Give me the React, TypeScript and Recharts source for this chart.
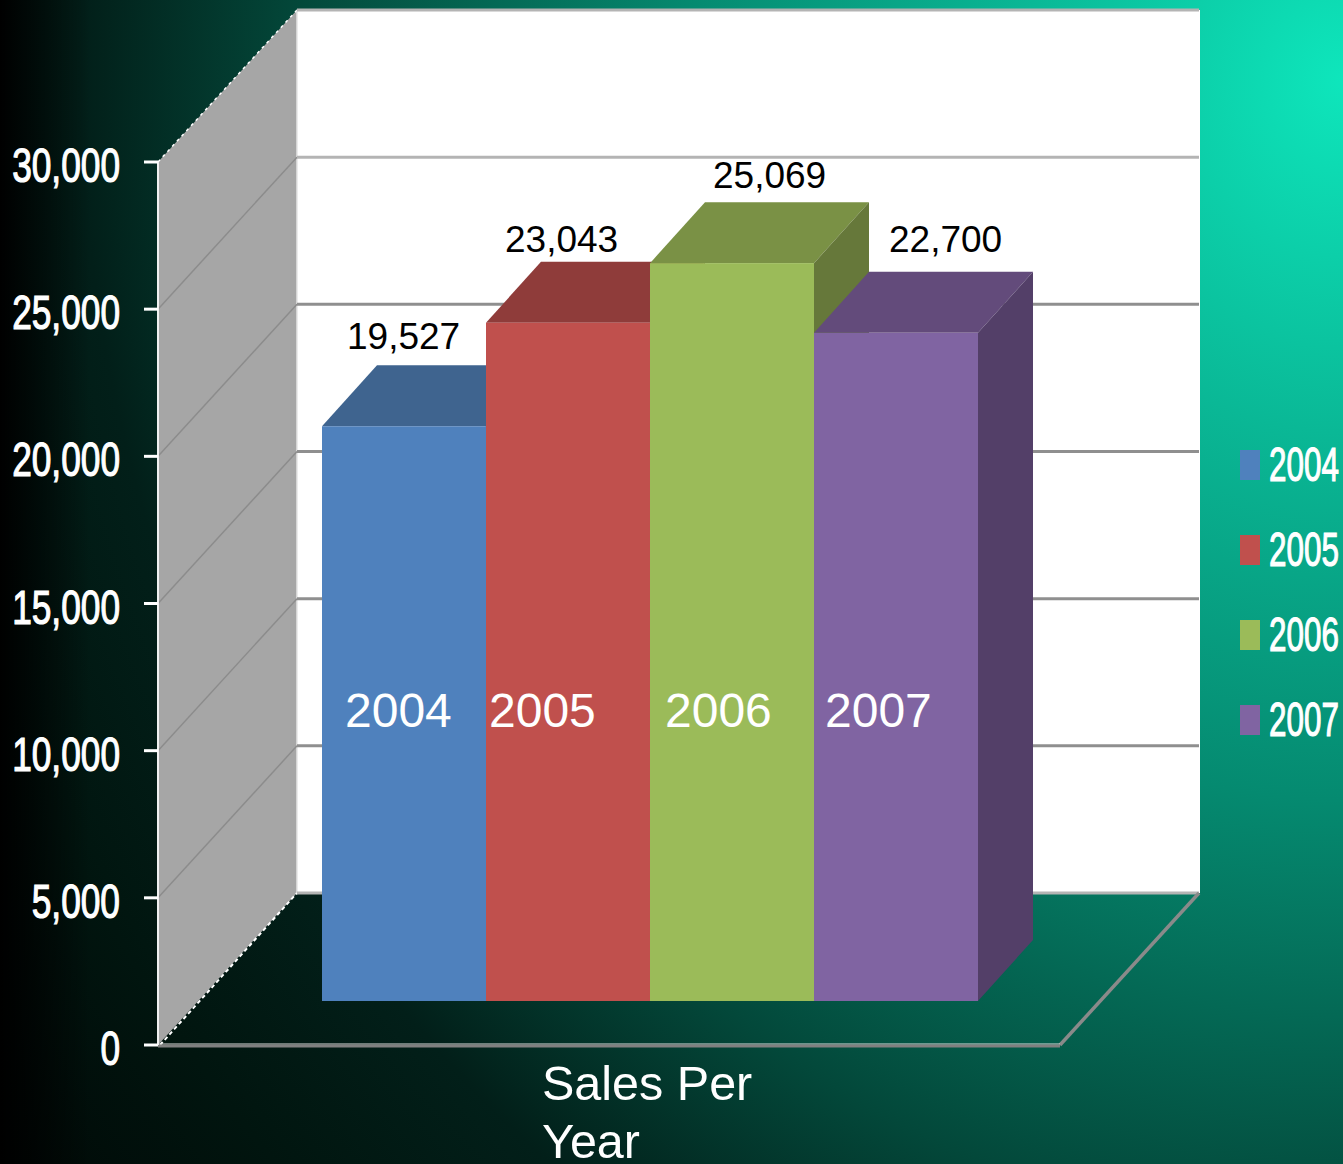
import React from 'react';
import { BarChart, Bar, XAxis, YAxis, Legend, LabelList, ReferenceArea } from 'recharts';

const category = 'Sales Per Year';
const years = ['2004', '2005', '2006', '2007'];
const sales = [19527, 23043, 25069, 22700];
const yTicks = [0, 5000, 10000, 15000, 20000, 25000, 30000];

const frontColors = ['#4f81bd', '#c0504d', '#9bbb59', '#8064a2'];
const topColors = ['#3f648f', '#8f3c3a', '#7a9145', '#634b7b'];
const sideColors = ['#365478', '#783230', '#66783a', '#533f68'];

// Nudges for the labels, relative to each bar's left edge and top edge
const valueLabelDx = [25, 19, 63, 75];
const valueLabelDy = [-77, -71, -75, -81];
const yearLabelDx = [23, 3, 15, 11];

// The 3D projection: wall depth, and where the bars sit inside that depth
const WALL_DX = 139;
const WALL_DY = -152;
const BAR_SHIFT_X = 41;
const BAR_SHIFT_Y = -44;
const BAR_DX = 55;
const BAR_DY = -61;

const row: Record<string, string | number> = { name: category };
years.forEach((y, i) => {
  row[y] = sales[i];
});
const data = [row];

const pts = (list: number[][]) => list.map((p) => p.join(',')).join(' ');

// Side wall, back wall, floor edges and gridlines, laid out from the front plane rectangle
const Walls = ({ x, y, width, height }: any) => {
  const left = x;
  const right = x + width;
  const top = y;
  const bottom = y + height;
  const max = yTicks[yTicks.length - 1];
  return (
    <g>
      <rect x={left + WALL_DX} y={top + WALL_DY} width={width + 1} height={height} fill="#ffffff" />
      <polygon
        points={pts([
          [left, top],
          [left + WALL_DX, top + WALL_DY],
          [left + WALL_DX, bottom + WALL_DY],
          [left, bottom],
        ])}
        fill="#a6a6a6"
      />
      <polyline
        points={pts([
          [left, top],
          [left + WALL_DX, top + WALL_DY],
        ])}
        fill="none"
        stroke="#ffffff"
        strokeWidth={1.5}
        strokeDasharray="3 4"
      />
      <polyline
        points={pts([
          [left + 2, bottom],
          [left + WALL_DX, bottom + WALL_DY],
        ])}
        fill="none"
        stroke="#ffffff"
        strokeWidth={2}
        strokeDasharray="4 3"
      />
      <line x1={left + WALL_DX} y1={top + WALL_DY} x2={left + WALL_DX} y2={bottom + WALL_DY} stroke="#e4e4e4" strokeWidth={1.5} />
      {yTicks.map((t) => {
        const ty = bottom - (t / max) * height;
        return (
          <g key={t}>
            {t > 0 && t < max && (
              <line x1={left} y1={ty} x2={left + WALL_DX} y2={ty + WALL_DY} stroke="#8c8c8c" strokeWidth={1.5} />
            )}
            <line
              x1={left + WALL_DX}
              y1={ty + WALL_DY}
              x2={right + WALL_DX}
              y2={ty + WALL_DY}
              stroke={t === 0 || t === max || t === 25000 ? '#b4b4b4' : '#8f8f8f'}
              strokeWidth={3}
            />
          </g>
        );
      })}
      <line x1={right} y1={bottom} x2={right + WALL_DX} y2={bottom + WALL_DY} stroke="#8a8a8a" strokeWidth={3.5} />
      <line x1={left} y1={bottom - 1} x2={right} y2={bottom - 1} stroke="#dcdcdc" strokeWidth={1} />
      <line x1={left} y1={bottom + 1} x2={right} y2={bottom + 1} stroke="#808080" strokeWidth={3} />
    </g>
  );
};

const makeBox = (index: number) => (props: any) => {
  const { x, y, width, height } = props;
  const fx = x + BAR_SHIFT_X;
  const fy = y + BAR_SHIFT_Y;
  const fr = fx + width;
  const fb = fy + height;
  return (
    <g>
      <polygon
        points={pts([
          [fx, fy],
          [fx + BAR_DX, fy + BAR_DY],
          [fr + BAR_DX, fy + BAR_DY],
          [fr, fy],
        ])}
        fill={topColors[index]}
      />
      <polygon
        points={pts([
          [fr, fy],
          [fr + BAR_DX, fy + BAR_DY],
          [fr + BAR_DX, fb + BAR_DY],
          [fr, fb],
        ])}
        fill={sideColors[index]}
      />
      <rect x={fx} y={fy} width={width} height={height} fill={frontColors[index]} />
    </g>
  );
};

const makeValueLabel = (index: number) => (props: any) => {
  const { x, y, value } = props;
  return (
    <text
      x={x + BAR_SHIFT_X + valueLabelDx[index]}
      y={y + BAR_SHIFT_Y + valueLabelDy[index]}
      fill="#000000"
      fontSize={37}
      fontFamily="Liberation Sans"
    >
      {Number(value).toLocaleString('en-US')}
    </text>
  );
};

const makeYearLabel = (index: number) => (props: any) => {
  const { x, y, height } = props;
  return (
    <text
      x={x + BAR_SHIFT_X + yearLabelDx[index]}
      y={y + height - 318}
      fill="#ffffff"
      fontSize={48}
      fontFamily="Liberation Sans"
    >
      {years[index]}
    </text>
  );
};

// Tall, narrow numerals used by the value axis and the legend
const NarrowText = ({ x, y, scaleX, anchor, children }: any) => (
  <text
    transform={`translate(${x},${y}) scale(${scaleX},1)`}
    textAnchor={anchor}
    fill="#ffffff"
    stroke="#ffffff"
    strokeWidth={1.2}
    fontSize={48}
    fontFamily="Liberation Sans"
  >
    {children}
  </text>
);

const ValueTick = ({ x, y, payload }: any) => (
  <NarrowText x={x} y={y + 20} scaleX={0.735} anchor="end">
    {Number(payload.value).toLocaleString('en-US')}
  </NarrowText>
);

const CategoryTick = ({ x, payload }: any) => {
  const words = String(payload.value).split(' ');
  const lines = [words.slice(0, 2).join(' '), words.slice(2).join(' ')];
  return (
    <text fill="#ffffff" fontSize={48.5} fontFamily="Liberation Sans">
      {lines.map((line, i) => (
        <tspan key={line} x={x - 67} y={1100 + i * 58}>
          {line}
        </tspan>
      ))}
    </text>
  );
};

const LegendRows = ({ payload }: any) => (
  <svg width={103} height={300} style={{ display: 'block' }}>
    {(payload || []).map((entry: any, i: number) => (
      <g key={entry.value}>
        <rect x={0} y={10 + i * 85} width={20} height={30} fill={frontColors[years.indexOf(entry.value)]} />
        <NarrowText x={29} y={41 + i * 85} scaleX={0.655} anchor="start">
          {entry.value}
        </NarrowText>
      </g>
    ))}
  </svg>
);

export default function App() {
  return (
    <div
      style={{
        position: 'absolute',
        left: 0,
        top: 0,
        width: 1343,
        height: 1164,
        overflow: 'hidden',
        background:
          'linear-gradient(90deg, #000000 0px, rgba(0,0,0,0) 90px), radial-gradient(ellipse 1450px 1600px at 1343px 80px, #0ee6bc 0%, #0ab896 22%, #058a70 45%, #03483a 72%, #021f19 87%, #01150f 100%, #000000 125%)',
      }}
    >
      <BarChart
        width={1343}
        height={1164}
        data={data}
        margin={{ top: 162, right: 179, bottom: 0, left: 0 }}
        barGap={0}
        barCategoryGap={123}
      >
        <ReferenceArea y1={0} y2={30000} ifOverflow="visible" shape={<Walls />} />
        <XAxis dataKey="name" height={119} axisLine={false} tickLine={false} tick={<CategoryTick />} interval={0} />
        <YAxis
          width={158}
          domain={[0, 30000]}
          ticks={yTicks}
          interval={0}
          tickSize={14}
          tickMargin={24}
          tick={<ValueTick />}
          tickLine={{ stroke: '#ffffff', strokeWidth: 3 }}
          axisLine={{ stroke: '#f0f0f0', strokeWidth: 2 }}
        />
        <Legend
          layout="vertical"
          align="right"
          verticalAlign="middle"
          width={104}
          content={<LegendRows />}
          wrapperStyle={{ left: 1240, top: 440, right: 'auto', bottom: 'auto' }}
        />
        {years.map((year, i) => (
          <Bar key={year} dataKey={year} name={year} fill={frontColors[i]} shape={makeBox(i)} isAnimationActive={false}>
            <LabelList dataKey={year} content={makeValueLabel(i)} />
            <LabelList dataKey={year} content={makeYearLabel(i)} />
          </Bar>
        ))}
      </BarChart>
    </div>
  );
}
